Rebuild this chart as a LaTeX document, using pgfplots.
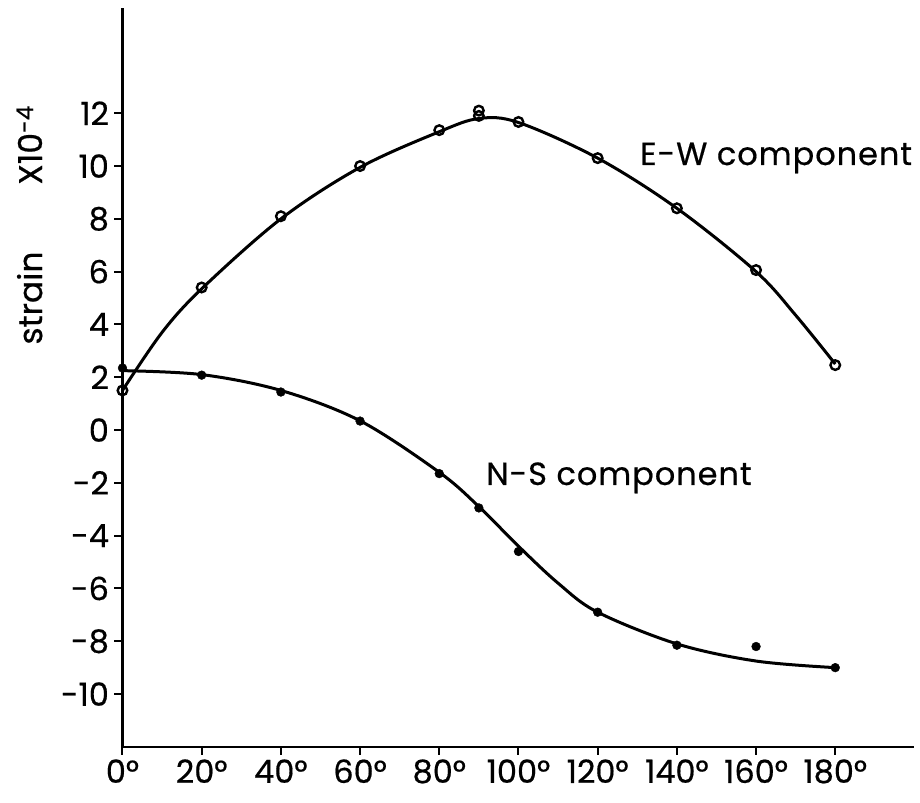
\documentclass[border=0pt]{standalone}
\usepackage{fontspec}
\setmainfont{Poppins}[FakeBold=0.5]
\usepackage{pgfplots}
\pgfplotsset{compat=1.18}
\begin{document}
\begin{tikzpicture}
\begin{axis}[
  x=3.96pt, y=26.4pt,
  xmin=0, xmax=200, ymin=-12, ymax=16,
  axis x line*=bottom, axis y line*=left,
  axis line style={line width=2.6pt, -},
  xtick={0,20,...,180},
  xticklabels={0°,20°,40°,60°,80°,100°,120°,140°,160°,180°},
  ytick={-10,-8,-6,-4,-2,0,2,4,6,8,10,12},
  yticklabels={-10,-8,-6,-4,-2,0,2,4,6,8,10,12},
  tick align=outside,
  major tick length=8pt,
  tick style={line width=2pt, black},
  ticklabel style={font=\fontsize{32}{38}\selectfont},
  yticklabel style={xshift=-2pt},
  xticklabel style={yshift=-1pt},
  clip=false,
]
% fitted curves
\addplot[line width=3pt, smooth, tension=0.55] coordinates {
 (0,1.5) (10,3.7) (20,5.35) (40,8.0) (60,9.95) (80,11.3) (90,11.8)
 (100,11.65) (120,10.3) (140,8.4) (160,6.0) (170,4.35) (180,2.5)};
\addplot[line width=3pt, smooth, tension=0.55] coordinates {
 (0,2.25) (20,2.1) (40,1.5) (60,0.35) (80,-1.6) (90,-2.9) (100,-4.4)
 (110,-5.8) (120,-6.9) (140,-8.1) (160,-8.75) (180,-9.0)};
% E-W data (open circles)
\addplot[only marks, mark=o, mark size=4.8pt, line width=2.4pt,
  mark options={fill=white}] coordinates {
 (0,1.5) (20,5.4) (40,8.1) (60,10.0) (80,11.36) (90,11.9) (90,12.1)
 (100,11.67) (120,10.3) (140,8.4) (160,6.06) (180,2.46)};
% N-S data (filled)
\addplot[only marks, mark=*, mark size=4.4pt] coordinates {
 (0,2.35) (20,2.08) (40,1.44) (60,0.34) (80,-1.65) (90,-2.95)
 (100,-4.6) (120,-6.9) (140,-8.15) (160,-8.2) (180,-9.0)};
\node[anchor=base west, font=\fontsize{32}{38}\selectfont\addfontfeature{LetterSpace=3}, inner sep=0pt]
  at (axis cs:130.7,10.04) {E-W component};
\node[anchor=base west, font=\fontsize{32}{38}\selectfont\addfontfeature{LetterSpace=3}, inner sep=0pt]
  at (axis cs:91.8,-2.08) {N-S component};
\node[anchor=base, rotate=90, font=\fontsize{33}{38}\selectfont, inner sep=0pt]
  at (axis cs:-20.3,5.0) {strain};
\node[anchor=base, rotate=90, font=\fontsize{33}{38}\selectfont, inner sep=0pt]
  at (axis cs:-20.3,10.8) {X10\textsuperscript{-4}};
\coordinate (bl) at (axis cs:-30.93,-14.09);
\coordinate (tr) at (axis cs:201.4,16.29);
\end{axis}
\pgfresetboundingbox
\path[use as bounding box] (bl) rectangle (tr);
\end{tikzpicture}
\end{document}
